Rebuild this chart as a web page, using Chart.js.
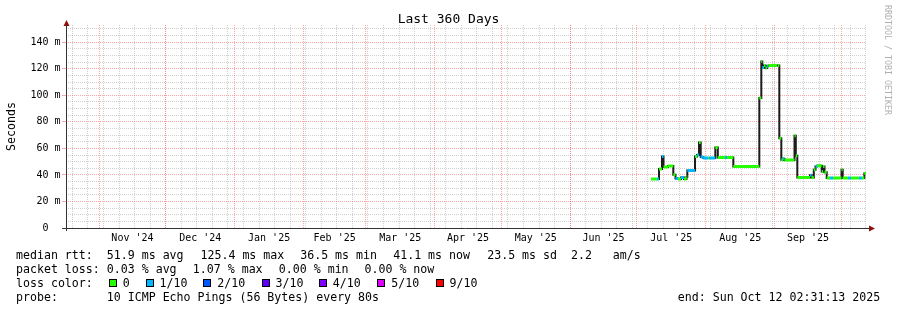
<!DOCTYPE html>
<html><head><meta charset="utf-8">
<script src="https://cdn.jsdelivr.net/npm/chart.js@4.4.1/dist/chart.umd.min.js"></script>
<style>
html,body{margin:0;padding:0;background:#fff;}
#wrap{position:relative;width:897px;height:310px;overflow:hidden;background:#fff;}
canvas{position:absolute;left:0;top:0;}
.t{position:absolute;font-family:"DejaVu Sans Mono",monospace;font-size:11.6px;line-height:14px;white-space:pre;color:#000;}
.title{position:absolute;left:0;width:897px;top:11px;text-align:center;font-family:"DejaVu Sans Mono",monospace;font-size:13px;line-height:16px;white-space:pre;color:#000;}
.wm{position:absolute;left:883px;top:5px;writing-mode:vertical-rl;font-family:"DejaVu Sans Mono",monospace;font-size:8.3px;line-height:9px;color:#b0b0b0;white-space:pre;}
.box{position:absolute;width:6px;height:6px;border:1px solid #000;top:279px;}
</style></head><body>
<div id="wrap">
<canvas id="c" width="897" height="310"></canvas>
<div class="title">Last 360 Days</div>
<div class="wm">RRDTOOL / TOBI OETIKER</div>
<div id="legend"></div>
</div>
<script>
// ---- data ----
const END_LABEL = "end: Sun Oct 12 02:31:13 2025";
const START = Date.UTC(2024, 9, 17, 2, 31, 13);   // 360 days before end
const SPAN_DAYS = 360;
const DAY = 86400000;

const monthStarts = ['2024-11-01','2024-12-01','2025-01-01','2025-02-01','2025-03-01','2025-04-01',
                     '2025-05-01','2025-06-01','2025-07-01','2025-08-01','2025-09-01','2025-10-01'];
const monthLabels = ["Nov '24","Dec '24","Jan '25","Feb '25","Mar '25","Apr '25",
                     "May '25","Jun '25","Jul '25","Aug '25","Sep '25"];
const firstWeekLine = '2024-10-20';

const yMajorTicks = [0,20,40,60,80,100,120,140];
const yLabels = ['0  ','20 m','40 m','60 m','80 m','100 m','120 m','140 m'];

// days since window start, median rtt (ms), packet loss (tenths)
const dayIndex = [263.25,265.95,266.85,268.2,268.88,270.9,273.29,274.28,275.4,276.75,
                  278.1,279.23,279.59,283.05,283.95,284.85,285.62,286.79,288.9,289.35,
                  292.19,293.31,296.55,297.45,300.29,311.99,312.89,313.34,314.1,314.78,
                  315.45,316.13,319.95,320.4,320.99,321.89,322.65,323.33,327.83,328.41,
                  329.09,334.8,335.48,336.51,337.28,337.95,340.07,340.65,341.33,342.32,
                  343.8,345.15,348.98,349.52,351.9,353.25,356.85,358.2,359.24];
const medianRtt = [36.9,36.9,44.5,53.9,46.0,46.8,40.1,37.3,36.9,38.1,
                   36.9,38.4,43.4,53.9,55.0,64.4,53.5,52.7,52.7,52.7,
                   60.7,53.1,53.1,53.1,46.4,97.9,125.4,121.0,122.5,120.5,
                   122.0,122.4,122.4,122.4,67.7,51.4,52.2,51.2,69.5,54.4,
                   38.0,39.7,38.0,43.9,46.4,47.0,42.6,46.4,42.0,37.6,
                   37.6,37.6,43.9,37.6,37.6,37.6,37.6,37.6,41.1];
const lossTenths = [0,1,0,1,0,0,0,1,0,1,
                    0,0,1,0,1,0,1,1,0,1,
                    0,0,1,0,0,0,0,1,0,0,
                    1,0,1,0,0,0,1,0,0,0,
                    0,1,0,0,1,0,0,0,0,0,
                    1,0,0,0,1,0,1,0,0];

const lossNames  = ['0','1/10','2/10','3/10','4/10','5/10','9/10'];
const lossColors = ['#26ff00','#00b8ff','#0059ff','#5e00ff','#7e00ff','#dd00ff','#ff0000'];

// ---- legend (text) ----
const legendRows = [
  [16,248,'median rtt:'],[106.8,248,'51.9 ms avg'],[200.5,248,'125.4 ms max'],[300.2,248,'36.5 ms min'],
  [393.2,248,'41.1 ms now'],[487.2,248,'23.5 ms sd  2.2   am/s'],
  [16,262,'packet loss:'],[106.8,262,'0.03 % avg'],[192.8,262,'1.07 % max'],[278.8,262,'0.00 % min'],[364.5,262,'0.00 % now'],
  [16,276,'loss color:'],
  [16,290,'probe:'],[106.8,290,'10 ICMP Echo Pings (56 Bytes) every 80s'],[677.8,290,END_LABEL]
];
const lossBoxX  = [108.5,145.7,203.3,261.7,319,377.3,435.7];
const lossTextX = [122.8,159.5,217.2,275.5,332.8,391.2,449.5];
const lg = document.getElementById('legend');
legendRows.forEach(([x,y,s])=>{const d=document.createElement('div');d.className='t';d.style.left=x+'px';d.style.top=y+'px';d.textContent=s;lg.appendChild(d);});
lossNames.forEach((n,i)=>{
  const b=document.createElement('div');b.className='box';b.style.left=lossBoxX[i]+'px';b.style.background=lossColors[i];lg.appendChild(b);
  const d=document.createElement('div');d.className='t';d.style.left=lossTextX[i]+'px';d.style.top='276px';d.textContent=n;lg.appendChild(d);
});

// ---- scales helpers ----
const toDay = s => (Date.parse(s+'T00:00:00Z') - START) / DAY;
const xTicks = []; // {value, kind, label}
for (let t = Date.parse(firstWeekLine+'T00:00:00Z'); (t-START)/DAY <= SPAN_DAYS; t += 7*DAY)
  xTicks.push({value:(t-START)/DAY, kind:'minor', label:''});
monthStarts.forEach(s => xTicks.push({value:toDay(s), kind:'major', label:''}));
monthLabels.forEach((l,i) => xTicks.push({value:(toDay(monthStarts[i])+toDay(monthStarts[i+1]))/2, kind:'label', label:l}));
xTicks.sort((a,b)=>a.value-b.value);

const yTicks = [];
for (let v = 0; v <= 150; v += 5) {
  const mi = yMajorTicks.indexOf(v);
  yTicks.push({value:v, kind: mi>=0?'major':'minor', label: mi>=0?yLabels[mi]:''});
}

const MAJOR = 'rgba(255,60,60,0.45)';
const MINOR = 'rgba(150,150,150,0.45)';
const gridColor = list => ctx => {
  const k = list[ctx.index] && list[ctx.index].kind;
  return k==='major'?MAJOR:(k==='minor'?MINOR:'rgba(0,0,0,0)');
};

// ---- datasets ----
const stepPts = dayIndex.map((d,i)=>({x:d,y:medianRtt[i]}));
stepPts.push({x:SPAN_DAYS, y:medianRtt[medianRtt.length-1]});
function lossSegments(level){
  const out=[];
  for(let i=0;i<dayIndex.length;i++){
    if(lossTenths[i]!==level) continue;
    const x2 = i+1<dayIndex.length?dayIndex[i+1]:SPAN_DAYS;
    out.push({x:dayIndex[i],y:medianRtt[i]},{x:x2,y:medianRtt[i]},{x:x2,y:null});
  }
  return out;
}

const axesPlugin = {
  id:'axesDeco',
  afterDraw(chart){
    const {ctx, chartArea:a} = chart;
    const xl = Math.floor(a.left)+0.5, yb = Math.round(a.bottom)+0.5;
    ctx.save();
    ctx.strokeStyle='#333'; ctx.lineWidth=1;
    ctx.beginPath();
    ctx.moveTo(a.left-4, yb); ctx.lineTo(a.right+3, yb);
    ctx.moveTo(xl, a.top-1); ctx.lineTo(xl, a.bottom+3);
    ctx.stroke();
    ctx.fillStyle='#8b1010';
    ctx.beginPath(); ctx.moveTo(xl, a.top-5); ctx.lineTo(xl-3, a.top+1); ctx.lineTo(xl+3, a.top+1); ctx.closePath(); ctx.fill();
    ctx.beginPath(); ctx.moveTo(a.right+9, yb); ctx.lineTo(a.right+3, yb-3); ctx.lineTo(a.right+3, yb+3); ctx.closePath(); ctx.fill();
    ctx.restore();
  }
};

new Chart(document.getElementById('c'), {
  type:'line',
  data:{datasets:[
    {label:'median rtt', data:stepPts, stepped:true, borderColor:'#1c1c1c', borderWidth:2, pointRadius:0, fill:false, order:3},
    {label:lossNames[1], data:lossSegments(1), borderColor:lossColors[1], borderWidth:3, pointRadius:0, spanGaps:false, fill:false, order:2, borderCapStyle:'butt'},
    {label:lossNames[0], data:lossSegments(0), borderColor:lossColors[0], borderWidth:3, pointRadius:0, spanGaps:false, fill:false, order:1, borderCapStyle:'butt'}
  ]},
  options:{
    responsive:false, animation:false, events:[],
    layout:{padding:{left:0,right:31,top:25,bottom:0}},
    plugins:{legend:{display:false}, tooltip:{enabled:false}},
    scales:{
      x:{type:'linear', min:0, max:SPAN_DAYS,
        afterBuildTicks: s => { s.ticks = xTicks.map(t=>({value:t.value})); },
        afterFit: s => { s.height = 82; },
        ticks:{autoSkip:false, maxRotation:0, padding:4, color:'#000',
          font:{family:'"DejaVu Sans Mono", monospace', size:10},
          callback:(v,i)=> xTicks[i] ? xTicks[i].label : ''},
        grid:{color:gridColor(xTicks), lineWidth:1, drawTicks:false},
        border:{display:false, dash:[1,1]}
      },
      y:{type:'linear', min:0, max:153,
        afterBuildTicks: s => { s.ticks = yTicks.map(t=>({value:t.value})); },
        afterFit: s => { s.width = 66; },
        ticks:{autoSkip:false, padding:1.5, color:'#000',
          font:{family:'"DejaVu Sans Mono", monospace', size:10},
          callback:(v,i)=> yTicks[i] ? yTicks[i].label : ''},
        grid:{color:gridColor(yTicks), lineWidth:1, drawTicks:true, tickLength:4,
          tickColor: ctx => (yTicks[ctx.index] && yTicks[ctx.index].kind==='major') ? MAJOR : 'rgba(0,0,0,0)'},
        border:{display:false, dash:[1,1]},
        title:{display:true, text:'Seconds', color:'#000', padding:{top:5,bottom:0},
          font:{family:'"DejaVu Sans Mono", monospace', size:11.6}}
      }
    }
  },
  plugins:[axesPlugin]
});
</script>
</body></html>
